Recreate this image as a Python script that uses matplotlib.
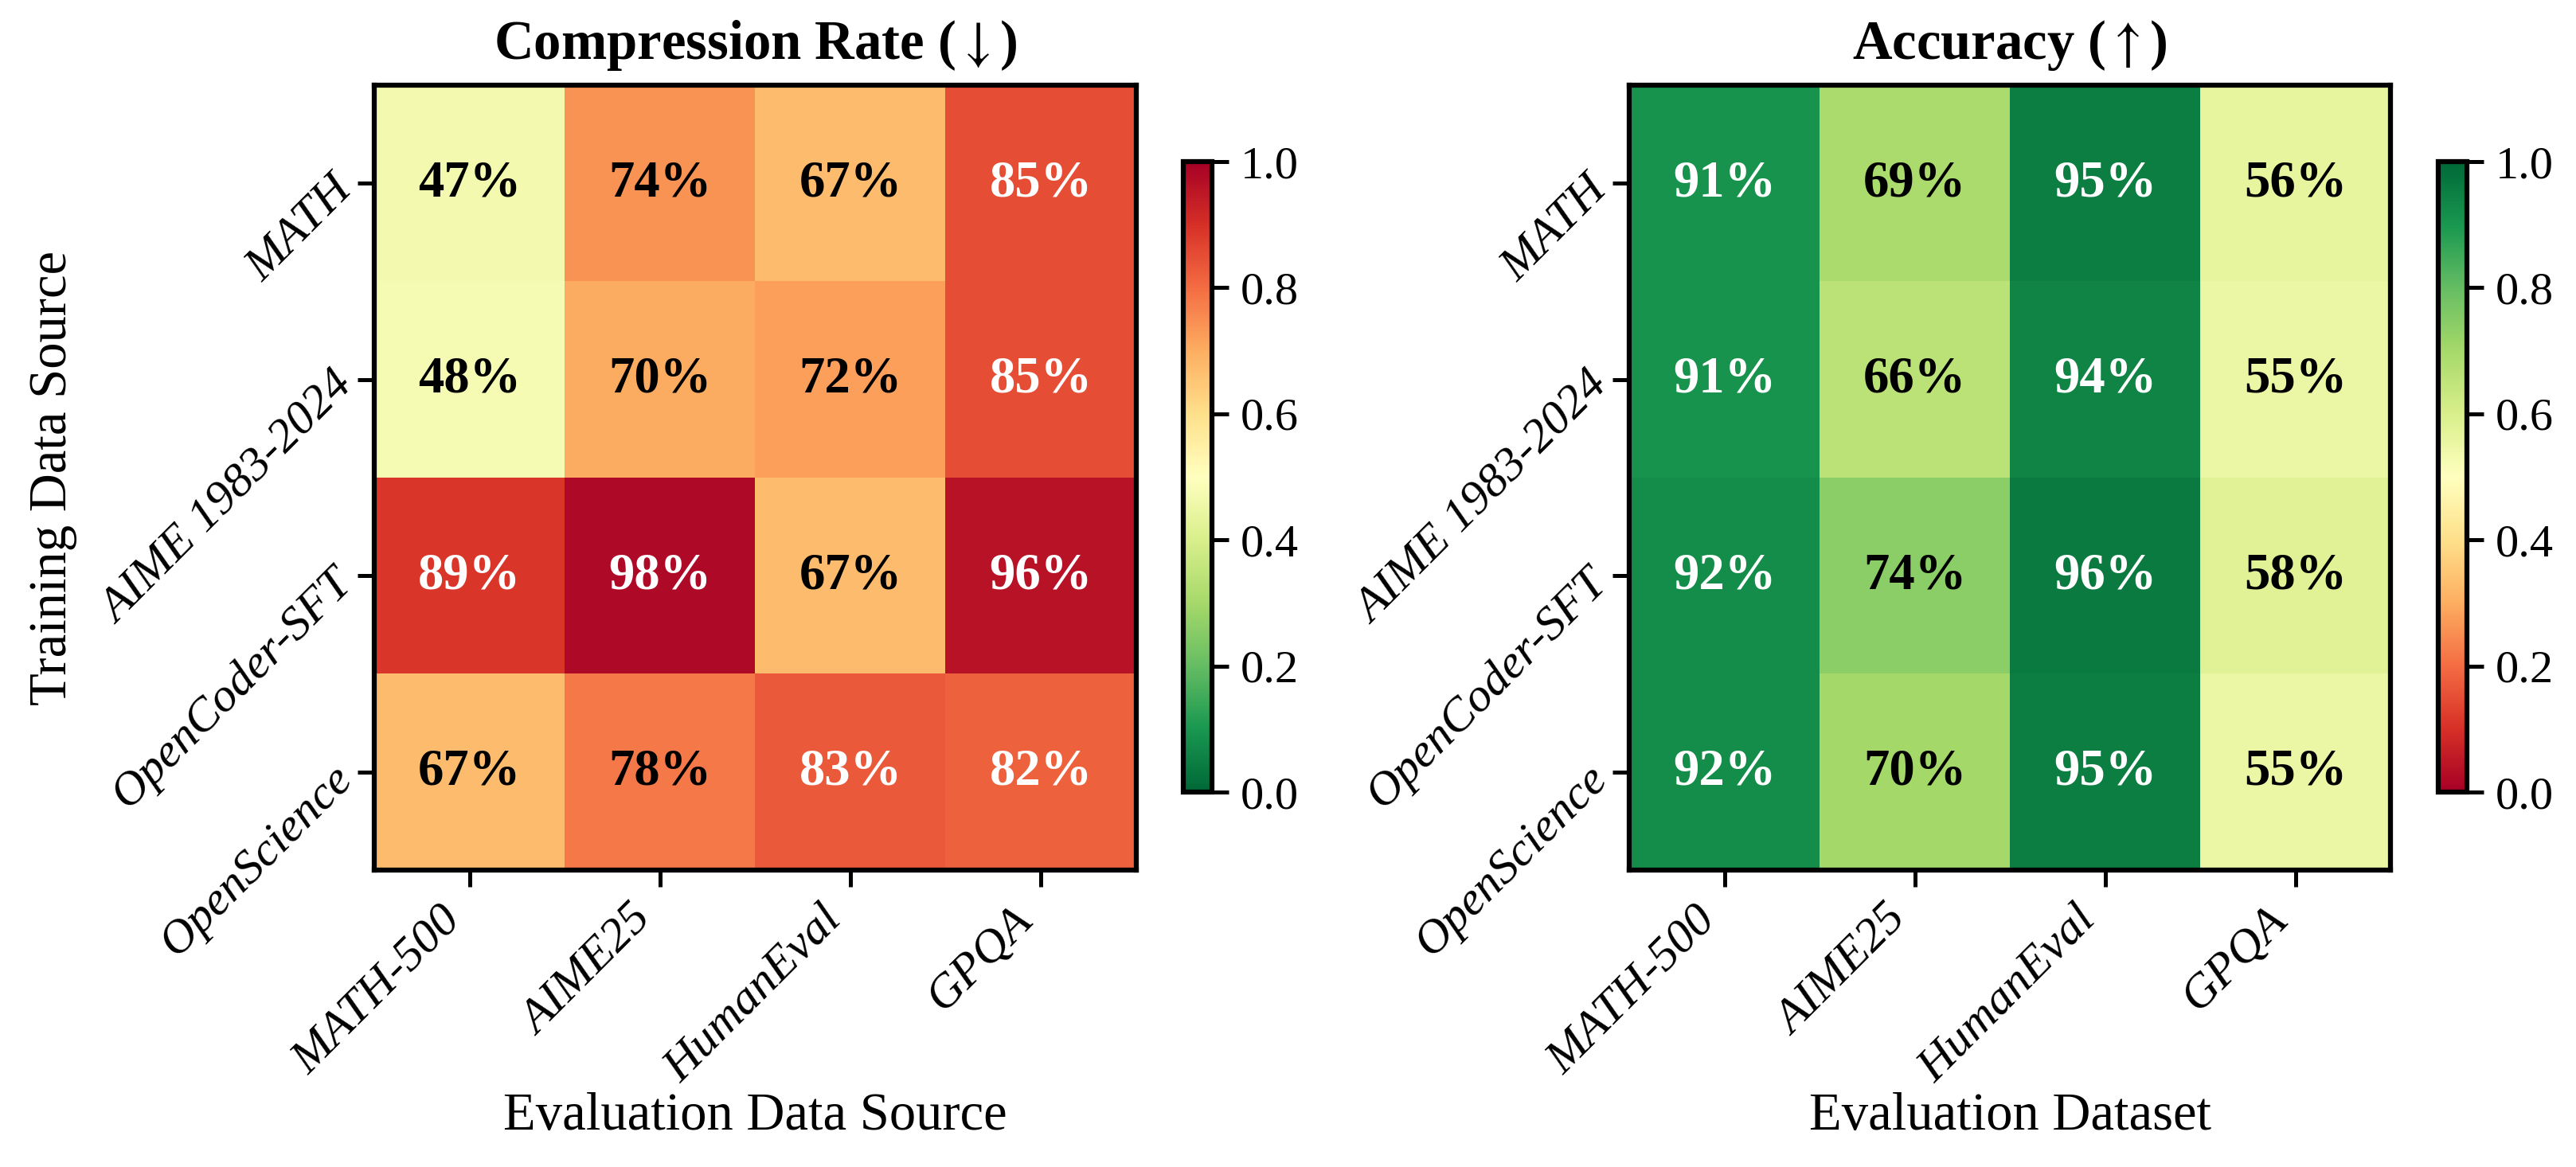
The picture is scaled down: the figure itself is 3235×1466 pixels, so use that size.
import numpy as np
import matplotlib
matplotlib.use("Agg")
import matplotlib.pyplot as plt

plt.rcParams['font.family'] = ['Liberation Serif', 'DejaVu Serif']
plt.rcParams['mathtext.fontset'] = 'stix'

train_sources = ["MATH", "AIME 1983-2024", "OpenCoder-SFT", "OpenScience"]
eval_sources = ["MATH-500", "AIME25", "HumanEval", "GPQA"]

compression = np.array([
    [47, 74, 67, 85],
    [48, 70, 72, 85],
    [89, 98, 67, 96],
    [67, 78, 83, 82],
])
accuracy = np.array([
    [91, 69, 95, 56],
    [91, 66, 94, 55],
    [92, 74, 96, 58],
    [92, 70, 95, 55],
])

W, H = 3235, 1466
fig = plt.figure(figsize=(W / 300, H / 300), dpi=300)

def px(x0, y0, x1, y1):
    return [x0 / W, 1 - y1 / H, (x1 - x0) / W, (y1 - y0) / H]

panels = [
    (compression, "RdYlGn_r", r"Compression Rate ($\downarrow$)", "Evaluation Data Source",
     px(470, 107, 1427, 1093), px(1486, 203, 1522, 995), True),
    (accuracy, "RdYlGn", r"Accuracy ($\uparrow$)", "Evaluation Dataset",
     px(2046, 107, 3002, 1093), px(3062, 203, 3098, 995), False),
]

for data, cmap, title, xlabel, pos, cpos, show_ylabel in panels:
    ax = fig.add_axes(pos)
    vals = data / 100.0
    im = ax.imshow(vals, cmap=cmap, vmin=0, vmax=1, aspect='auto')
    for i in range(vals.shape[0]):
        for j in range(vals.shape[1]):
            color = "white" if vals[i, j] > 0.8 else "black"
            ax.text(j, i, f"{data[i, j]}%", ha='center', va='center',
                    fontsize=15.5, fontweight='bold', color=color)
    ax.set_xticks(range(len(eval_sources)))
    ax.set_yticks(range(len(train_sources)))
    ax.set_xticklabels(eval_sources, rotation=45, ha='right',
                       fontsize=14.5, fontstyle='italic')
    ax.set_yticklabels(train_sources, rotation=45, ha='right', va='center',
                       rotation_mode='anchor', fontsize=14.5, fontstyle='italic')
    ax.tick_params(width=1.2, length=5)
    for s in ax.spines.values():
        s.set_linewidth(1.5)
    ax.set_title(title, fontsize=16.5, fontweight='bold', pad=8)
    ax.set_xlabel(xlabel, fontsize=16)
    ax.xaxis.set_label_coords(0.5, -0.283)
    if show_ylabel:
        ax.set_ylabel("Training Data Source", fontsize=16)
        ax.yaxis.set_label_coords(-0.39, 0.5)

    cax = fig.add_axes(cpos)
    cb = fig.colorbar(im, cax=cax)
    cb.set_ticks([0, 0.2, 0.4, 0.6, 0.8, 1.0])
    cb.ax.tick_params(labelsize=14, width=1.2, length=5)
    cb.outline.set_linewidth(1.5)

plt.savefig("out.png", dpi=300)
